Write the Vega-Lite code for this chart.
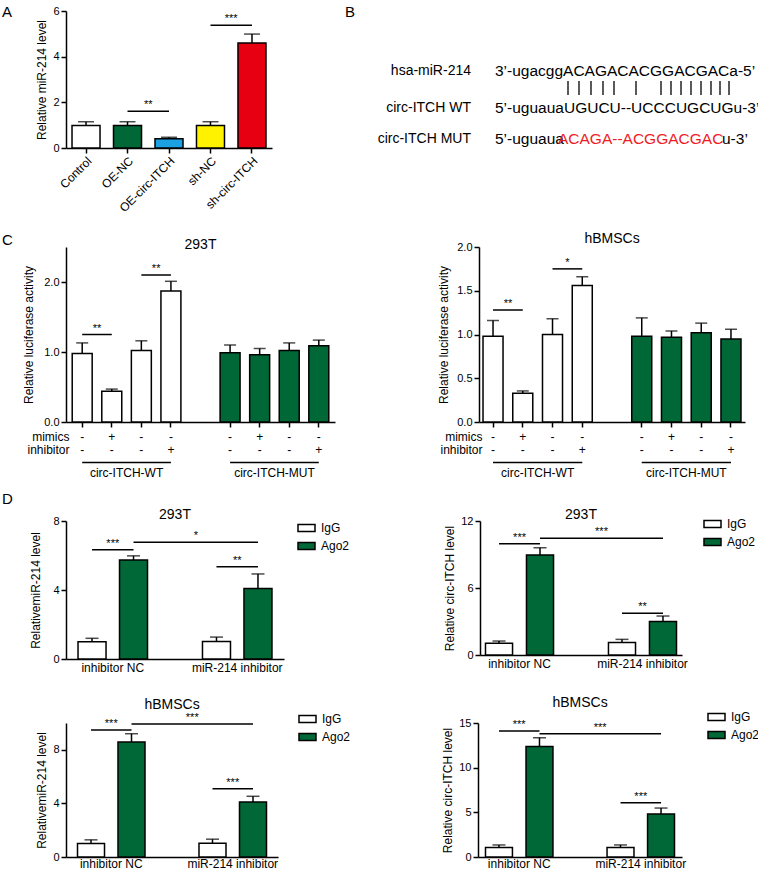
{
  "$schema": "https://vega.github.io/schema/vega-lite/v6.json",
  "padding": {"left": 2, "top": 4, "right": 0, "bottom": 0},
  "config": {
    "font": "Liberation Sans",
    "view": {"stroke": null},
    "axis": {"domainColor": "#000000", "domainWidth": 1.5, "tickColor": "#000000", "tickWidth": 1.5, "tickSize": 5, "labelColor": "#000000", "labelFontSize": 11, "labelPadding": 2, "titleFontSize": 12, "titleFontWeight": "normal", "titleColor": "#000000", "grid": false},
    "title": {"fontWeight": "normal", "color": "#000000", "fontSize": 14},
    "legend": {"labelColor": "#000000"}
  },
  "resolve": {"scale": {"fill": "independent", "color": "independent"}},
  "datasets": {
    "a": [
      {"group": "Control", "value": 0.99, "sd": 0.16},
      {"group": "OE-NC", "value": 0.99, "sd": 0.16},
      {"group": "OE-circ-ITCH", "value": 0.41, "sd": 0.06},
      {"group": "sh-NC", "value": 0.99, "sd": 0.16},
      {"group": "sh-circ-ITCH", "value": 4.6, "sd": 0.39}
    ],
    "a_sig": [
      {"from": "OE-NC", "to": "OE-circ-ITCH", "y": 1.61, "label": "**"},
      {"from": "sh-NC", "to": "sh-circ-ITCH", "y": 5.38, "label": "***"}
    ],
    "b_labels": [
      {"name": "hsa-miR-214", "x": 126, "y": 60},
      {"name": "circ-ITCH WT", "x": 126, "y": 97},
      {"name": "circ-ITCH MUT", "x": 126, "y": 128}
    ],
    "b_sequences": [
      {"seq": "3’-ugacggACAGACACGGACGACa-5’", "x": 150, "y": 60, "mutated": "no"},
      {"seq": "5’-uguauaUGUCU--UCCCUGCUGu-3’", "x": 150, "y": 97, "mutated": "no"},
      {"seq": "5’-uguaua", "x": 150, "y": 128, "mutated": "no"},
      {"seq": "ACAGA--ACGGACGAC", "x": 213, "y": 128, "mutated": "yes"},
      {"seq": "u-3’", "x": 377, "y": 128, "mutated": "no"}
    ],
    "b_pairs": [
      {"x": 223, "y1": 70, "y2": 84}, {"x": 234, "y1": 70, "y2": 84}, {"x": 246, "y1": 70, "y2": 84},
      {"x": 258, "y1": 70, "y2": 84}, {"x": 269, "y1": 70, "y2": 84}, {"x": 291, "y1": 70, "y2": 84},
      {"x": 316, "y1": 70, "y2": 84}, {"x": 326, "y1": 70, "y2": 84}, {"x": 336, "y1": 70, "y2": 84},
      {"x": 346, "y1": 70, "y2": 84}, {"x": 356, "y1": 70, "y2": 84}, {"x": 366, "y1": 70, "y2": 84},
      {"x": 375, "y1": 70, "y2": 84}, {"x": 384, "y1": 70, "y2": 84}
    ],
    "c_293t": [
      {"slot": "WT1", "construct": "circ-ITCH-WT", "mimics": "-", "inhibitor": "-", "value": 0.98, "sd": 0.15},
      {"slot": "WT2", "construct": "circ-ITCH-WT", "mimics": "+", "inhibitor": "-", "value": 0.44, "sd": 0.03},
      {"slot": "WT3", "construct": "circ-ITCH-WT", "mimics": "-", "inhibitor": "-", "value": 1.02, "sd": 0.14},
      {"slot": "WT4", "construct": "circ-ITCH-WT", "mimics": "-", "inhibitor": "+", "value": 1.87, "sd": 0.14},
      {"slot": "MUT1", "construct": "circ-ITCH-MUT", "mimics": "-", "inhibitor": "-", "value": 0.99, "sd": 0.11},
      {"slot": "MUT2", "construct": "circ-ITCH-MUT", "mimics": "+", "inhibitor": "-", "value": 0.96, "sd": 0.09},
      {"slot": "MUT3", "construct": "circ-ITCH-MUT", "mimics": "-", "inhibitor": "-", "value": 1.02, "sd": 0.11},
      {"slot": "MUT4", "construct": "circ-ITCH-MUT", "mimics": "-", "inhibitor": "+", "value": 1.09, "sd": 0.08}
    ],
    "c_bm": [
      {"slot": "WT1", "construct": "circ-ITCH-WT", "mimics": "-", "inhibitor": "-", "value": 0.98, "sd": 0.18},
      {"slot": "WT2", "construct": "circ-ITCH-WT", "mimics": "+", "inhibitor": "-", "value": 0.33, "sd": 0.025},
      {"slot": "WT3", "construct": "circ-ITCH-WT", "mimics": "-", "inhibitor": "-", "value": 1.0, "sd": 0.18},
      {"slot": "WT4", "construct": "circ-ITCH-WT", "mimics": "-", "inhibitor": "+", "value": 1.56, "sd": 0.1},
      {"slot": "MUT1", "construct": "circ-ITCH-MUT", "mimics": "-", "inhibitor": "-", "value": 0.98, "sd": 0.21},
      {"slot": "MUT2", "construct": "circ-ITCH-MUT", "mimics": "+", "inhibitor": "-", "value": 0.97, "sd": 0.07},
      {"slot": "MUT3", "construct": "circ-ITCH-MUT", "mimics": "-", "inhibitor": "-", "value": 1.02, "sd": 0.11},
      {"slot": "MUT4", "construct": "circ-ITCH-MUT", "mimics": "-", "inhibitor": "+", "value": 0.95, "sd": 0.11}
    ],
    "c_293t_sig": [
      {"from": "WT1", "to": "WT2", "y": 1.25, "label": "**"},
      {"from": "WT3", "to": "WT4", "y": 2.1, "label": "**"}
    ],
    "c_bm_sig": [
      {"from": "WT1", "to": "WT2", "y": 1.28, "label": "**"},
      {"from": "WT3", "to": "WT4", "y": 1.75, "label": "*"}
    ],
    "constructs": [
      {"construct": "circ-ITCH-WT", "from": "WT1", "to": "WT4"},
      {"construct": "circ-ITCH-MUT", "from": "MUT1", "to": "MUT4"}
    ],
    "d_293t_mir": [
      {"slot": "inhibitor NC|IgG", "group": "inhibitor NC", "type": "IgG", "value": 1.0, "sd": 0.2},
      {"slot": "inhibitor NC|Ago2", "group": "inhibitor NC", "type": "Ago2", "value": 5.74, "sd": 0.24},
      {"slot": "miR-214 inhibitor|IgG", "group": "miR-214 inhibitor", "type": "IgG", "value": 1.02, "sd": 0.25},
      {"slot": "miR-214 inhibitor|Ago2", "group": "miR-214 inhibitor", "type": "Ago2", "value": 4.09, "sd": 0.84}
    ],
    "d_293t_mir_sig": [
      {"from": "inhibitor NC|IgG", "to": "inhibitor NC|Ago2", "y": 6.33, "label": "***", "span": "pair"},
      {"from": "inhibitor NC|Ago2", "to": "miR-214 inhibitor|Ago2", "y": 6.77, "label": "*", "span": "across"},
      {"from": "miR-214 inhibitor|IgG", "to": "miR-214 inhibitor|Ago2", "y": 5.35, "label": "**", "span": "pair"}
    ],
    "d_293t_circ": [
      {"slot": "inhibitor NC|IgG", "group": "inhibitor NC", "type": "IgG", "value": 1.05, "sd": 0.2},
      {"slot": "inhibitor NC|Ago2", "group": "inhibitor NC", "type": "Ago2", "value": 8.95, "sd": 0.66},
      {"slot": "miR-214 inhibitor|IgG", "group": "miR-214 inhibitor", "type": "IgG", "value": 1.11, "sd": 0.29},
      {"slot": "miR-214 inhibitor|Ago2", "group": "miR-214 inhibitor", "type": "Ago2", "value": 2.99, "sd": 0.5}
    ],
    "d_293t_circ_sig": [
      {"from": "inhibitor NC|IgG", "to": "inhibitor NC|Ago2", "y": 9.97, "label": "***", "span": "pair"},
      {"from": "inhibitor NC|Ago2", "to": "miR-214 inhibitor|Ago2", "y": 10.45, "label": "***", "span": "across"},
      {"from": "miR-214 inhibitor|IgG", "to": "miR-214 inhibitor|Ago2", "y": 3.73, "label": "**", "span": "pair"}
    ],
    "d_bm_mir": [
      {"slot": "inhibitor NC|IgG", "group": "inhibitor NC", "type": "IgG", "value": 1.0, "sd": 0.28},
      {"slot": "inhibitor NC|Ago2", "group": "inhibitor NC", "type": "Ago2", "value": 8.58, "sd": 0.62},
      {"slot": "miR-214 inhibitor|IgG", "group": "miR-214 inhibitor", "type": "IgG", "value": 1.03, "sd": 0.3},
      {"slot": "miR-214 inhibitor|Ago2", "group": "miR-214 inhibitor", "type": "Ago2", "value": 4.1, "sd": 0.43}
    ],
    "d_bm_mir_sig": [
      {"from": "inhibitor NC|IgG", "to": "inhibitor NC|Ago2", "y": 9.48, "label": "***", "span": "pair"},
      {"from": "inhibitor NC|Ago2", "to": "miR-214 inhibitor|Ago2", "y": 9.93, "label": "***", "span": "across"},
      {"from": "miR-214 inhibitor|IgG", "to": "miR-214 inhibitor|Ago2", "y": 5.1, "label": "***", "span": "pair"}
    ],
    "d_bm_circ": [
      {"slot": "inhibitor NC|IgG", "group": "inhibitor NC", "type": "IgG", "value": 1.05, "sd": 0.3},
      {"slot": "inhibitor NC|Ago2", "group": "inhibitor NC", "type": "Ago2", "value": 12.37, "sd": 0.98},
      {"slot": "miR-214 inhibitor|IgG", "group": "miR-214 inhibitor", "type": "IgG", "value": 1.05, "sd": 0.3},
      {"slot": "miR-214 inhibitor|Ago2", "group": "miR-214 inhibitor", "type": "Ago2", "value": 4.8, "sd": 0.68}
    ],
    "d_bm_circ_sig": [
      {"from": "inhibitor NC|IgG", "to": "inhibitor NC|Ago2", "y": 14.1, "label": "***", "span": "pair"},
      {"from": "inhibitor NC|Ago2", "to": "miR-214 inhibitor|Ago2", "y": 13.8, "label": "***", "span": "across"},
      {"from": "miR-214 inhibitor|IgG", "to": "miR-214 inhibitor|Ago2", "y": 6.07, "label": "***", "span": "pair"}
    ]
  },
  "spacing": 9,
  "vconcat": [
    {
      "title": {"text": "A", "anchor": "start", "frame": "group", "dx": -64, "offset": -14.5, "fontSize": 15},
      "spacing": 73,
      "resolve": {"scale": {"fill": "independent", "color": "independent"}},
      "hconcat": [
        {
          "width": 206, "height": 137,
          "layer": [
            {
              "data": {"name": "a"},
              "mark": {"type": "errorbar", "color": "#000000", "thickness": 1.5, "ticks": {"size": 16, "thickness": 1.5}},
              "encoding": {
                "x": {"field": "group", "type": "nominal", "title": null, "scale": {"type": "band", "domain": ["Control", "OE-NC", "OE-circ-ITCH", "sh-NC", "sh-circ-ITCH"], "paddingInner": 0.325, "paddingOuter": 0.145}, "axis": {"labelAngle": -45, "labelFontSize": 12}},
                "y": {"field": "value", "type": "quantitative", "title": "Relative miR-214 level", "scale": {"domain": [0, 6], "nice": false}, "axis": {"values": [0, 2, 4, 6], "titlePadding": 4}},
                "yError": {"field": "sd"}
              }
            },
            {
              "data": {"name": "a"},
              "mark": {"type": "bar", "stroke": "#000000", "strokeWidth": 1.5},
              "encoding": {
                "x": {"field": "group", "type": "nominal", "title": null},
                "y": {"field": "value", "type": "quantitative", "title": "Relative miR-214 level"},
                "fill": {"field": "group", "type": "nominal", "scale": {"domain": ["Control", "OE-NC", "OE-circ-ITCH", "sh-NC", "sh-circ-ITCH"], "range": ["#ffffff", "#006837", "#1ba1e2", "#fff200", "#e60012"]}, "legend": null}
              }
            },
            {
              "data": {"name": "a_sig"},
              "mark": {"type": "rule", "strokeWidth": 1.5, "color": "#000000"},
              "encoding": {
                "x": {"field": "from", "type": "nominal", "title": null},
                "x2": {"field": "to"},
                "y": {"field": "y", "type": "quantitative", "title": "Relative miR-214 level"}
              }
            },
            {
              "data": {"name": "a_sig"},
              "mark": {"type": "text", "dx": 20.7, "dy": -1, "baseline": "bottom", "fontSize": 11, "color": "#000000"},
              "encoding": {
                "x": {"field": "from", "type": "nominal", "title": null},
                "y": {"field": "y", "type": "quantitative", "title": "Relative miR-214 level"},
                "text": {"field": "label"}
              }
            }
          ]
        },
        {
          "width": 410, "height": 212,
          "title": {"text": "B", "anchor": "start", "frame": "group", "offset": -9, "fontSize": 15},
          "layer": [
            {
              "data": {"name": "b_labels"},
              "mark": {"type": "text", "align": "right", "baseline": "middle", "fontSize": 14, "color": "#000000"},
              "encoding": {
                "x": {"field": "x", "type": "quantitative", "scale": {"domain": [0, 410], "nice": false, "zero": false}, "axis": null},
                "y": {"field": "y", "type": "quantitative", "scale": {"domain": [0, 212], "nice": false, "reverse": true}, "axis": null},
                "text": {"field": "name"}
              }
            },
            {
              "data": {"name": "b_sequences"},
              "mark": {"type": "text", "align": "left", "baseline": "middle", "fontSize": 15.5},
              "encoding": {
                "x": {"field": "x", "type": "quantitative", "axis": null},
                "y": {"field": "y", "type": "quantitative", "axis": null},
                "text": {"field": "seq"},
                "color": {"field": "mutated", "type": "nominal", "scale": {"domain": ["no", "yes"], "range": ["#000000", "#ee1c25"]}, "legend": null}
              }
            },
            {
              "data": {"name": "b_pairs"},
              "mark": {"type": "rule", "strokeWidth": 1.3, "color": "#000000"},
              "encoding": {
                "x": {"field": "x", "type": "quantitative", "axis": null},
                "y": {"field": "y1", "type": "quantitative", "axis": null},
                "y2": {"field": "y2"}
              }
            }
          ]
        }
      ]
    },
    {
      "title": {"text": "C", "anchor": "start", "frame": "group", "dx": -64, "offset": -15.5, "fontSize": 15},
      "spacing": 102,
      "resolve": {"scale": {"fill": "independent", "color": "independent"}},
      "hconcat": [
        {
          "bounds": "flush",
          "spacing": 8,
          "resolve": {"scale": {"fill": "independent", "color": "independent"}},
          "vconcat": [
            {
              "width": 269, "height": 175,
              "title": {"text": "293T", "offset": -5, "fontSize": 14},
              "layer": [
                {
                  "data": {"name": "c_293t"},
                  "mark": {"type": "errorbar", "color": "#000000", "thickness": 1.5, "ticks": {"size": 12, "thickness": 1.5}},
                  "encoding": {
                    "x": {"field": "slot", "type": "nominal", "title": null, "scale": {"type": "band", "domain": ["WT1", "WT2", "WT3", "WT4", "gap", "MUT1", "MUT2", "MUT3", "MUT4"], "paddingInner": 0.325, "paddingOuter": 0.21}, "axis": {"values": ["WT1", "WT2", "WT3", "WT4", "MUT1", "MUT2", "MUT3", "MUT4"], "labels": false}},
                    "y": {"field": "value", "type": "quantitative", "title": "Relative luciferase activity", "scale": {"domain": [0, 2.5], "nice": false}, "axis": {"values": [0, 0.5, 1, 1.5, 2, 2.5], "format": ".1f", "titlePadding": 8}},
                    "yError": {"field": "sd"}
                  }
                },
                {
                  "data": {"name": "c_293t"},
                  "mark": {"type": "bar", "stroke": "#000000", "strokeWidth": 1.5},
                  "encoding": {
                    "x": {"field": "slot", "type": "nominal", "title": null},
                    "y": {"field": "value", "type": "quantitative", "title": "Relative luciferase activity"},
                    "fill": {"field": "construct", "type": "nominal", "scale": {"domain": ["circ-ITCH-WT", "circ-ITCH-MUT"], "range": ["#ffffff", "#006837"]}, "legend": null}
                  }
                },
                {
                  "data": {"name": "c_293t_sig"},
                  "mark": {"type": "rule", "strokeWidth": 1.5, "color": "#000000"},
                  "encoding": {
                    "x": {"field": "from", "type": "nominal", "title": null},
                    "x2": {"field": "to"},
                    "y": {"field": "y", "type": "quantitative", "title": "Relative luciferase activity"}
                  }
                },
                {
                  "data": {"name": "c_293t_sig"},
                  "mark": {"type": "text", "dx": 14.8, "dy": -1, "baseline": "bottom", "fontSize": 11, "color": "#000000"},
                  "encoding": {
                    "x": {"field": "from", "type": "nominal", "title": null},
                    "y": {"field": "y", "type": "quantitative", "title": "Relative luciferase activity"},
                    "text": {"field": "label"}
                  }
                }
              ]
            },
            {
              "width": 269, "height": 52,
              "layer": [
                {
                  "data": {"name": "c_293t"},
                  "transform": [{"fold": ["mimics", "inhibitor"], "as": ["treatment", "sign"]}],
                  "mark": {"type": "text", "fontSize": 12, "baseline": "middle", "color": "#000000"},
                  "encoding": {
                    "x": {"field": "slot", "type": "nominal", "title": null, "scale": {"type": "band", "domain": ["WT1", "WT2", "WT3", "WT4", "gap", "MUT1", "MUT2", "MUT3", "MUT4"], "paddingInner": 0.325, "paddingOuter": 0.21}, "axis": null},
                    "y": {"field": "treatment", "type": "nominal", "title": null, "scale": {"type": "point", "domain": ["mimics", "inhibitor", "line", "label"], "padding": 0.5}, "axis": {"values": ["mimics", "inhibitor"], "domain": false, "ticks": false, "labelFontSize": 12, "labelPadding": -3}},
                    "text": {"field": "sign"}
                  }
                },
                {
                  "data": {"name": "constructs"},
                  "mark": {"type": "rule", "strokeWidth": 1.5, "color": "#000000"},
                  "encoding": {
                    "x": {"field": "from", "type": "nominal", "title": null},
                    "x2": {"field": "to"},
                    "y": {"datum": "line", "type": "nominal", "title": null}
                  }
                },
                {
                  "data": {"name": "constructs"},
                  "mark": {"type": "text", "fontSize": 12, "dx": 44.4, "dy": -3, "baseline": "middle", "color": "#000000"},
                  "encoding": {
                    "x": {"field": "from", "type": "nominal", "title": null},
                    "y": {"datum": "label", "type": "nominal", "title": null},
                    "text": {"field": "construct"}
                  }
                }
              ]
            }
          ]
        },
        {
          "bounds": "flush",
          "spacing": 8,
          "resolve": {"scale": {"fill": "independent", "color": "independent"}},
          "vconcat": [
            {
              "width": 266, "height": 175,
              "title": {"text": "hBMSCs", "offset": -5, "fontSize": 14},
              "layer": [
                {
                  "data": {"name": "c_bm"},
                  "mark": {"type": "errorbar", "color": "#000000", "thickness": 1.5, "ticks": {"size": 12, "thickness": 1.5}},
                  "encoding": {
                    "x": {"field": "slot", "type": "nominal", "title": null, "scale": {"type": "band", "domain": ["WT1", "WT2", "WT3", "WT4", "gap", "MUT1", "MUT2", "MUT3", "MUT4"], "paddingInner": 0.327, "paddingOuter": 0.135}, "axis": {"values": ["WT1", "WT2", "WT3", "WT4", "MUT1", "MUT2", "MUT3", "MUT4"], "labels": false}},
                    "y": {"field": "value", "type": "quantitative", "title": "Relative luciferase activity", "scale": {"domain": [0, 2], "nice": false}, "axis": {"values": [0, 0.5, 1, 1.5, 2], "format": ".1f", "titlePadding": 6}},
                    "yError": {"field": "sd"}
                  }
                },
                {
                  "data": {"name": "c_bm"},
                  "mark": {"type": "bar", "stroke": "#000000", "strokeWidth": 1.5},
                  "encoding": {
                    "x": {"field": "slot", "type": "nominal", "title": null},
                    "y": {"field": "value", "type": "quantitative", "title": "Relative luciferase activity"},
                    "fill": {"field": "construct", "type": "nominal", "scale": {"domain": ["circ-ITCH-WT", "circ-ITCH-MUT"], "range": ["#ffffff", "#006837"]}, "legend": null}
                  }
                },
                {
                  "data": {"name": "c_bm_sig"},
                  "mark": {"type": "rule", "strokeWidth": 1.5, "color": "#000000"},
                  "encoding": {
                    "x": {"field": "from", "type": "nominal", "title": null},
                    "x2": {"field": "to"},
                    "y": {"field": "y", "type": "quantitative", "title": "Relative luciferase activity"}
                  }
                },
                {
                  "data": {"name": "c_bm_sig"},
                  "mark": {"type": "text", "dx": 14.9, "dy": -1, "baseline": "bottom", "fontSize": 11, "color": "#000000"},
                  "encoding": {
                    "x": {"field": "from", "type": "nominal", "title": null},
                    "y": {"field": "y", "type": "quantitative", "title": "Relative luciferase activity"},
                    "text": {"field": "label"}
                  }
                }
              ]
            },
            {
              "width": 266, "height": 52,
              "layer": [
                {
                  "data": {"name": "c_bm"},
                  "transform": [{"fold": ["mimics", "inhibitor"], "as": ["treatment", "sign"]}],
                  "mark": {"type": "text", "fontSize": 12, "baseline": "middle", "color": "#000000"},
                  "encoding": {
                    "x": {"field": "slot", "type": "nominal", "title": null, "scale": {"type": "band", "domain": ["WT1", "WT2", "WT3", "WT4", "gap", "MUT1", "MUT2", "MUT3", "MUT4"], "paddingInner": 0.327, "paddingOuter": 0.135}, "axis": null},
                    "y": {"field": "treatment", "type": "nominal", "title": null, "scale": {"type": "point", "domain": ["mimics", "inhibitor", "line", "label"], "padding": 0.5}, "axis": {"values": ["mimics", "inhibitor"], "domain": false, "ticks": false, "labelFontSize": 12, "labelPadding": -3}},
                    "text": {"field": "sign"}
                  }
                },
                {
                  "data": {"name": "constructs"},
                  "mark": {"type": "rule", "strokeWidth": 1.5, "color": "#000000"},
                  "encoding": {
                    "x": {"field": "from", "type": "nominal", "title": null},
                    "x2": {"field": "to"},
                    "y": {"datum": "line", "type": "nominal", "title": null}
                  }
                },
                {
                  "data": {"name": "constructs"},
                  "mark": {"type": "text", "fontSize": 12, "dx": 44.6, "dy": -3, "baseline": "middle", "color": "#000000"},
                  "encoding": {
                    "x": {"field": "from", "type": "nominal", "title": null},
                    "y": {"datum": "label", "type": "nominal", "title": null},
                    "text": {"field": "construct"}
                  }
                }
              ]
            }
          ]
        }
      ]
    },
    {
      "title": {"text": "D", "anchor": "start", "frame": "group", "dx": -64, "offset": 1, "fontSize": 15},
      "spacing": 22,
      "resolve": {"scale": {"fill": "independent", "color": "independent"}},
      "vconcat": [
        {
          "spacing": 93,
          "resolve": {"scale": {"fill": "independent", "color": "independent"}},
          "hconcat": [
            {
              "width": 218, "height": 138,
              "title": {"text": "293T", "offset": -7, "fontSize": 14},
              "layer": [
                {
                  "data": {"name": "d_293t_mir"},
                  "mark": {"type": "errorbar", "color": "#000000", "thickness": 1.5, "ticks": {"size": 13, "thickness": 1.5}},
                  "encoding": {
                    "x": {"field": "slot", "type": "nominal", "title": null, "scale": {"type": "band", "domain": ["inhibitor NC|IgG", "inhibitor NC|Ago2", "gap", "miR-214 inhibitor|IgG", "miR-214 inhibitor|Ago2"], "paddingInner": 0.325, "paddingOuter": 0.29}, "axis": {"values": ["inhibitor NC|IgG", "miR-214 inhibitor|IgG"], "labelExpr": "split(datum.value, '|')[0]", "labelOffset": 20.75, "labelAngle": 0, "ticks": false, "labelFontSize": 12, "labelPadding": 3}},
                    "y": {"field": "value", "type": "quantitative", "title": "RelativemiR-214 level", "scale": {"domain": [0, 8], "nice": false}, "axis": {"values": [0, 2, 4, 6, 8], "titlePadding": 10}},
                    "yError": {"field": "sd"}
                  }
                },
                {
                  "data": {"name": "d_293t_mir"},
                  "mark": {"type": "bar", "stroke": "#000000", "strokeWidth": 1.5},
                  "encoding": {
                    "x": {"field": "slot", "type": "nominal", "title": null},
                    "y": {"field": "value", "type": "quantitative", "title": "RelativemiR-214 level"},
                    "fill": {"field": "type", "type": "nominal", "scale": {"domain": ["IgG", "Ago2"], "range": ["#ffffff", "#006837"]}, "legend": {"title": null, "orient": "none", "legendX": 231, "legendY": -2.5, "symbolType": "M-1,-0.41H1V0.41H-1Z", "symbolSize": 289, "symbolStrokeColor": "#000000", "symbolStrokeWidth": 1.5, "labelFontSize": 12, "rowPadding": 2, "labelOffset": 5}}
                  }
                },
                {
                  "data": {"name": "d_293t_mir_sig"},
                  "mark": {"type": "rule", "strokeWidth": 1.5, "color": "#000000"},
                  "encoding": {
                    "x": {"field": "from", "type": "nominal", "title": null},
                    "x2": {"field": "to"},
                    "y": {"field": "y", "type": "quantitative", "title": "RelativemiR-214 level"}
                  }
                },
                {
                  "data": {"name": "d_293t_mir_sig"},
                  "transform": [{"filter": "datum.span == 'pair'"}],
                  "mark": {"type": "text", "dx": 20.75, "dy": -1, "baseline": "bottom", "fontSize": 11, "color": "#000000"},
                  "encoding": {
                    "x": {"field": "from", "type": "nominal", "title": null},
                    "y": {"field": "y", "type": "quantitative", "title": "RelativemiR-214 level"},
                    "text": {"field": "label"}
                  }
                },
                {
                  "data": {"name": "d_293t_mir_sig"},
                  "transform": [{"filter": "datum.span == 'across'"}],
                  "mark": {"type": "text", "dx": 62.25, "dy": -1, "baseline": "bottom", "fontSize": 11, "color": "#000000"},
                  "encoding": {
                    "x": {"field": "from", "type": "nominal", "title": null},
                    "y": {"field": "y", "type": "quantitative", "title": "RelativemiR-214 level"},
                    "text": {"field": "label"}
                  }
                }
              ]
            },
            {
              "width": 202, "height": 134,
              "title": {"text": "293T", "offset": -7, "fontSize": 14},
              "layer": [
                {
                  "data": {"name": "d_293t_circ"},
                  "mark": {"type": "errorbar", "color": "#000000", "thickness": 1.5, "ticks": {"size": 13, "thickness": 1.5}},
                  "encoding": {
                    "x": {"field": "slot", "type": "nominal", "title": null, "scale": {"type": "band", "domain": ["inhibitor NC|IgG", "inhibitor NC|Ago2", "gap", "miR-214 inhibitor|IgG", "miR-214 inhibitor|Ago2"], "paddingInner": 0.34, "paddingOuter": 0.134}, "axis": {"values": ["inhibitor NC|IgG", "miR-214 inhibitor|IgG"], "labelExpr": "split(datum.value, '|')[0]", "labelOffset": 20.5, "labelAngle": 0, "ticks": false, "labelFontSize": 12, "labelPadding": 3}},
                    "y": {"field": "value", "type": "quantitative", "title": "Relative circ-ITCH level", "scale": {"domain": [0, 12], "nice": false}, "axis": {"values": [0, 3, 6, 9, 12], "titlePadding": 4}},
                    "yError": {"field": "sd"}
                  }
                },
                {
                  "data": {"name": "d_293t_circ"},
                  "mark": {"type": "bar", "stroke": "#000000", "strokeWidth": 1.5},
                  "encoding": {
                    "x": {"field": "slot", "type": "nominal", "title": null},
                    "y": {"field": "value", "type": "quantitative", "title": "Relative circ-ITCH level"},
                    "fill": {"field": "type", "type": "nominal", "scale": {"domain": ["IgG", "Ago2"], "range": ["#ffffff", "#006837"]}, "legend": {"title": null, "orient": "none", "legendX": 223, "legendY": -6.5, "symbolType": "M-1,-0.41H1V0.41H-1Z", "symbolSize": 289, "symbolStrokeColor": "#000000", "symbolStrokeWidth": 1.5, "labelFontSize": 12, "rowPadding": 2, "labelOffset": 5}}
                  }
                },
                {
                  "data": {"name": "d_293t_circ_sig"},
                  "mark": {"type": "rule", "strokeWidth": 1.5, "color": "#000000"},
                  "encoding": {
                    "x": {"field": "from", "type": "nominal", "title": null},
                    "x2": {"field": "to"},
                    "y": {"field": "y", "type": "quantitative", "title": "Relative circ-ITCH level"}
                  }
                },
                {
                  "data": {"name": "d_293t_circ_sig"},
                  "transform": [{"filter": "datum.span == 'pair'"}],
                  "mark": {"type": "text", "dx": 20.5, "dy": -1, "baseline": "bottom", "fontSize": 11, "color": "#000000"},
                  "encoding": {
                    "x": {"field": "from", "type": "nominal", "title": null},
                    "y": {"field": "y", "type": "quantitative", "title": "Relative circ-ITCH level"},
                    "text": {"field": "label"}
                  }
                },
                {
                  "data": {"name": "d_293t_circ_sig"},
                  "transform": [{"filter": "datum.span == 'across'"}],
                  "mark": {"type": "text", "dx": 61.5, "dy": -1, "baseline": "bottom", "fontSize": 11, "color": "#000000"},
                  "encoding": {
                    "x": {"field": "from", "type": "nominal", "title": null},
                    "y": {"field": "y", "type": "quantitative", "title": "Relative circ-ITCH level"},
                    "text": {"field": "label"}
                  }
                }
              ]
            }
          ]
        },
        {
          "spacing": 90,
          "resolve": {"scale": {"fill": "independent", "color": "independent"}},
          "hconcat": [
            {
              "width": 212, "height": 134,
              "title": {"text": "hBMSCs", "offset": -2, "fontSize": 14},
              "layer": [
                {
                  "data": {"name": "d_bm_mir"},
                  "mark": {"type": "errorbar", "color": "#000000", "thickness": 1.5, "ticks": {"size": 13, "thickness": 1.5}},
                  "encoding": {
                    "x": {"field": "slot", "type": "nominal", "title": null, "scale": {"type": "band", "domain": ["inhibitor NC|IgG", "inhibitor NC|Ago2", "gap", "miR-214 inhibitor|IgG", "miR-214 inhibitor|Ago2"], "paddingInner": 0.333, "paddingOuter": 0.284}, "axis": {"values": ["inhibitor NC|IgG", "miR-214 inhibitor|IgG"], "labelExpr": "split(datum.value, '|')[0]", "labelOffset": 20.25, "labelAngle": 0, "ticks": false, "labelFontSize": 12, "labelPadding": 1}},
                    "y": {"field": "value", "type": "quantitative", "title": "RelativemiR-214 level", "scale": {"domain": [0, 10], "nice": false}, "axis": {"values": [0, 2, 4, 6, 8, 10], "titlePadding": 4}},
                    "yError": {"field": "sd"}
                  }
                },
                {
                  "data": {"name": "d_bm_mir"},
                  "mark": {"type": "bar", "stroke": "#000000", "strokeWidth": 1.5},
                  "encoding": {
                    "x": {"field": "slot", "type": "nominal", "title": null},
                    "y": {"field": "value", "type": "quantitative", "title": "RelativemiR-214 level"},
                    "fill": {"field": "type", "type": "nominal", "scale": {"domain": ["IgG", "Ago2"], "range": ["#ffffff", "#006837"]}, "legend": {"title": null, "orient": "none", "legendX": 232, "legendY": -13.5, "symbolType": "M-1,-0.41H1V0.41H-1Z", "symbolSize": 289, "symbolStrokeColor": "#000000", "symbolStrokeWidth": 1.5, "labelFontSize": 12, "rowPadding": 2, "labelOffset": 5}}
                  }
                },
                {
                  "data": {"name": "d_bm_mir_sig"},
                  "mark": {"type": "rule", "strokeWidth": 1.5, "color": "#000000"},
                  "encoding": {
                    "x": {"field": "from", "type": "nominal", "title": null},
                    "x2": {"field": "to"},
                    "y": {"field": "y", "type": "quantitative", "title": "RelativemiR-214 level"}
                  }
                },
                {
                  "data": {"name": "d_bm_mir_sig"},
                  "transform": [{"filter": "datum.span == 'pair'"}],
                  "mark": {"type": "text", "dx": 20.25, "dy": -1, "baseline": "bottom", "fontSize": 11, "color": "#000000"},
                  "encoding": {
                    "x": {"field": "from", "type": "nominal", "title": null},
                    "y": {"field": "y", "type": "quantitative", "title": "RelativemiR-214 level"},
                    "text": {"field": "label"}
                  }
                },
                {
                  "data": {"name": "d_bm_mir_sig"},
                  "transform": [{"filter": "datum.span == 'across'"}],
                  "mark": {"type": "text", "dx": 60.75, "dy": -1, "baseline": "bottom", "fontSize": 11, "color": "#000000"},
                  "encoding": {
                    "x": {"field": "from", "type": "nominal", "title": null},
                    "y": {"field": "y", "type": "quantitative", "title": "RelativemiR-214 level"},
                    "text": {"field": "label"}
                  }
                }
              ]
            },
            {
              "width": 204, "height": 134,
              "title": {"text": "hBMSCs", "offset": -2, "fontSize": 14},
              "layer": [
                {
                  "data": {"name": "d_bm_circ"},
                  "mark": {"type": "errorbar", "color": "#000000", "thickness": 1.5, "ticks": {"size": 13, "thickness": 1.5}},
                  "encoding": {
                    "x": {"field": "slot", "type": "nominal", "title": null, "scale": {"type": "band", "domain": ["inhibitor NC|IgG", "inhibitor NC|Ago2", "gap", "miR-214 inhibitor|IgG", "miR-214 inhibitor|Ago2"], "paddingInner": 0.335, "paddingOuter": 0.185}, "axis": {"values": ["inhibitor NC|IgG", "miR-214 inhibitor|IgG"], "labelExpr": "split(datum.value, '|')[0]", "labelOffset": 20.25, "labelAngle": 0, "ticks": false, "labelFontSize": 12, "labelPadding": 1}},
                    "y": {"field": "value", "type": "quantitative", "title": "Relative circ-ITCH level", "scale": {"domain": [0, 15], "nice": false}, "axis": {"values": [0, 5, 10, 15], "titlePadding": 4}},
                    "yError": {"field": "sd"}
                  }
                },
                {
                  "data": {"name": "d_bm_circ"},
                  "mark": {"type": "bar", "stroke": "#000000", "strokeWidth": 1.5},
                  "encoding": {
                    "x": {"field": "slot", "type": "nominal", "title": null},
                    "y": {"field": "value", "type": "quantitative", "title": "Relative circ-ITCH level"},
                    "fill": {"field": "type", "type": "nominal", "scale": {"domain": ["IgG", "Ago2"], "range": ["#ffffff", "#006837"]}, "legend": {"title": null, "orient": "none", "legendX": 229, "legendY": -15.5, "symbolType": "M-1,-0.41H1V0.41H-1Z", "symbolSize": 289, "symbolStrokeColor": "#000000", "symbolStrokeWidth": 1.5, "labelFontSize": 12, "rowPadding": 2, "labelOffset": 5}}
                  }
                },
                {
                  "data": {"name": "d_bm_circ_sig"},
                  "mark": {"type": "rule", "strokeWidth": 1.5, "color": "#000000"},
                  "encoding": {
                    "x": {"field": "from", "type": "nominal", "title": null},
                    "x2": {"field": "to"},
                    "y": {"field": "y", "type": "quantitative", "title": "Relative circ-ITCH level"}
                  }
                },
                {
                  "data": {"name": "d_bm_circ_sig"},
                  "transform": [{"filter": "datum.span == 'pair'"}],
                  "mark": {"type": "text", "dx": 20.25, "dy": -1, "baseline": "bottom", "fontSize": 11, "color": "#000000"},
                  "encoding": {
                    "x": {"field": "from", "type": "nominal", "title": null},
                    "y": {"field": "y", "type": "quantitative", "title": "Relative circ-ITCH level"},
                    "text": {"field": "label"}
                  }
                },
                {
                  "data": {"name": "d_bm_circ_sig"},
                  "transform": [{"filter": "datum.span == 'across'"}],
                  "mark": {"type": "text", "dx": 60.75, "dy": -1, "baseline": "bottom", "fontSize": 11, "color": "#000000"},
                  "encoding": {
                    "x": {"field": "from", "type": "nominal", "title": null},
                    "y": {"field": "y", "type": "quantitative", "title": "Relative circ-ITCH level"},
                    "text": {"field": "label"}
                  }
                }
              ]
            }
          ]
        }
      ]
    }
  ]
}
